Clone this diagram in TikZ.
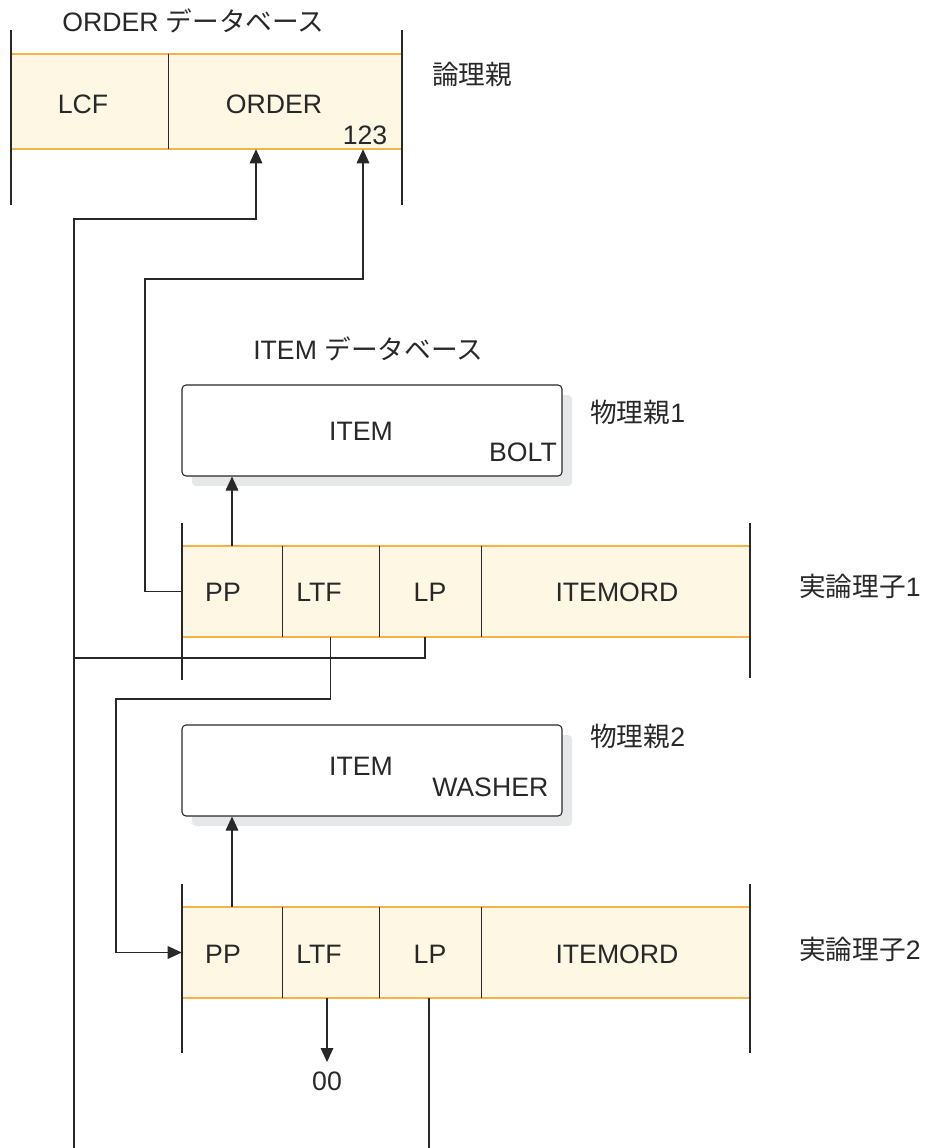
\documentclass[tikz,border=0pt]{standalone}
\usepackage{fontspec}
\setmainfont{Liberation Sans}
\newfontfamily\jp{Noto Sans CJK JP}
\usetikzlibrary{arrows.meta}
\definecolor{cream}{RGB}{253,247,228}
\definecolor{orng}{RGB}{245,178,70}
\definecolor{ink}{RGB}{40,40,40}
\definecolor{shade}{RGB}{230,231,233}
\begin{document}
\begin{tikzpicture}[x=0.75pt,y=-0.75pt,
  txt/.style={font=\fontsize{20}{24}\selectfont, text=ink, inner sep=0pt, text height=14.4pt, text depth=0pt},
  cell/.style={fill=cream, draw=none, inner sep=0pt, minimum height=68.25pt},
  ibox/.style={draw=ink, line width=0.8pt, fill=white, rounded corners=3pt, inner sep=0pt, minimum width=285pt, minimum height=68.25pt},
  shbox/.style={fill=shade, rounded corners=3pt, inner sep=0pt, minimum width=285pt, minimum height=68.25pt},
  conn/.style={draw=ink, line width=0.8pt},
  arr/.style={conn, -{Triangle[length=10.5pt,width=9.5pt]}},
  bar/.style={draw=ink, line width=1pt},
  oedge/.style={draw=orng, line width=1.2pt}]
\useasboundingbox (0,0) rectangle (926,1148);

% ---------- ORDER database ----------
\node[cell, minimum width=117pt, minimum height=71.25pt] (lcf) at (90,101.5) {};
\node[cell, minimum width=175.5pt, minimum height=71.25pt] (order) at (285,101.5) {};
\draw[oedge] (lcf.north west) -- (order.north east);
\draw[oedge] (lcf.south west) -- (order.south east);
\draw[conn] (lcf.north east) -- (lcf.south east);
\draw[bar] (11,30) -- (11,205);
\draw[bar] (402,30) -- (402,205);

% ---------- ITEM boxes ----------
\node[shbox] (sh1) at (382,440.5) {};
\node[ibox] (item1) at (372,430.5) {};
\node[shbox] (sh2) at (382,780.5) {};
\node[ibox] (item2) at (372,770.5) {};

% ---------- row 1 ----------
\node[cell, minimum width=75pt] (pp1) at (232,591.5) {};
\node[cell, minimum width=72.75pt] (ltf1) at (330.5,591.5) {};
\node[cell, minimum width=76.5pt] (lp1) at (430,591.5) {};
\node[cell, minimum width=201.75pt] (io1) at (615.5,591.5) {};
\draw[oedge] (pp1.north west) -- (io1.north east);
\draw[oedge] (pp1.south west) -- (io1.south east);
\draw[conn] (pp1.north east) -- (pp1.south east);
\draw[conn] (ltf1.north east) -- (ltf1.south east);
\draw[conn] (lp1.north east) -- (lp1.south east);
\draw[bar] (182,523) -- (182,680);
\draw[bar] (750,523) -- (750,678);

% ---------- row 2 ----------
\node[cell, minimum width=75pt] (pp2) at (232,952.5) {};
\node[cell, minimum width=72.75pt] (ltf2) at (330.5,952.5) {};
\node[cell, minimum width=76.5pt] (lp2) at (430,952.5) {};
\node[cell, minimum width=201.75pt] (io2) at (615.5,952.5) {};
\draw[oedge] (pp2.north west) -- (io2.north east);
\draw[oedge] (pp2.south west) -- (io2.south east);
\draw[conn] (pp2.north east) -- (pp2.south east);
\draw[conn] (ltf2.north east) -- (ltf2.south east);
\draw[conn] (lp2.north east) -- (lp2.south east);
\draw[bar] (182,884) -- (182,1053);
\draw[bar] (750,884) -- (750,1053);

% ---------- connectors ----------
\coordinate (b74) at (74,1148);
\coordinate (j1) at (256,219);
\coordinate (j2) at (145,279);
\coordinate (j3) at (363,279);
\coordinate (k1) at (425,658);
\coordinate (j4) at (116,699);
\coordinate (t00) at (327,1062);
\coordinate (b429) at (429,1148);

\draw[arr] (b74) |- (j1) -- (order.south -| j1);
\draw[arr] (pp1.west) -| (j2) -- (j3) -- (order.south -| j3);
\draw[conn] (lp1.south -| k1) |- (b74 |- k1);
\draw[arr] (pp1.north) -- (item1.south -| pp1.north);
\draw[arr] (ltf1.south) |- (j4) |- (pp2.west);
\draw[arr] (pp2.north) -- (item2.south -| pp2.north);
\draw[arr] (ltf2.south -| t00) -- (t00);
\draw[conn] (lp2.south -| b429) -- (b429);

% ---------- texts ----------
\node[txt, anchor=west] (odb) at (62,22) {ORDER {\jp データベース}};
\node[txt] (tlcf) at (83,104) {LCF};
\node[txt] (torder) at (274,104) {ORDER};
\node[txt] (t123) at (365,135) {123};
\node[txt, anchor=west] (lparent) at (432,75) {\jp 論理親};

\node[txt, anchor=west] (idb) at (253,350) {ITEM {\jp データベース}};
\node[txt] (titem1) at (361,431) {ITEM};
\node[txt] (tbolt) at (523,452) {BOLT};
\node[txt, anchor=west] (pparent1) at (590,413) {{\jp 物理親}1};

\node[txt] (tpp1) at (223,592) {PP};
\node[txt] (tltf1) at (319,592) {LTF};
\node[txt] (tlp1) at (430,592) {LP};
\node[txt] (tio1) at (617,592) {ITEMORD};
\node[txt, anchor=west] (child1) at (799,587) {{\jp 実論理子}1};

\node[txt] (titem2) at (361,766) {ITEM};
\node[txt, anchor=west] (twasher) at (432,787) {WASHER};
\node[txt, anchor=west] (pparent2) at (590,737) {{\jp 物理親}2};

\node[txt] (tpp2) at (223,954) {PP};
\node[txt] (tltf2) at (319,954) {LTF};
\node[txt] (tlp2) at (430,954) {LP};
\node[txt] (tio2) at (617,954) {ITEMORD};
\node[txt, anchor=west] (child2) at (799,950) {{\jp 実論理子}2};

\node[txt] (tzero) at (327,1081) {00};
\end{tikzpicture}
\end{document}
